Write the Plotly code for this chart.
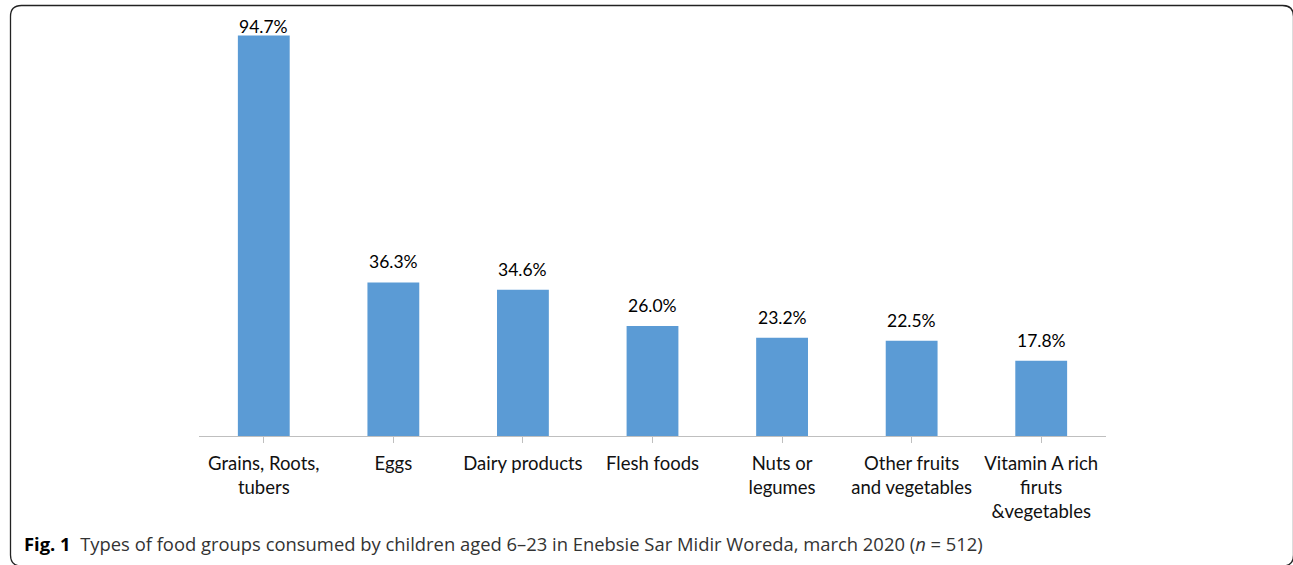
import plotly.graph_objects as go

categories = ["Grains, Roots,<br>tubers", "Eggs", "Dairy products", "Flesh foods",
              "Nuts or<br>legumes", "Other fruits<br>and vegetables",
              "Vitamin A rich<br>firuts<br>&vegetables"]
values = [94.7, 36.3, 34.6, 26.0, 23.2, 22.5, 17.8]
labels = ["94.7%", "36.3%", "34.6%", "26.0%", "23.2%", "22.5%", "17.8%"]
label_shift = [-4, 8, 8, 8, 8, 8, 8]

W, H = 1293, 565
ML, MR, MT, MB = 199, 187, 13, 129
PW, PH = W - ML - MR, H - MT - MB

def px(x):
    return (x - ML) / PW

def py(y):
    return (H - MB - y) / PH

fig = go.Figure()
fig.add_trace(go.Bar(
    x=list(range(len(values))), y=values,
    marker=dict(color="#5b9bd5", line=dict(width=0)),
    width=0.4, hoverinfo="skip",
))

for i, (v, t, s) in enumerate(zip(values, labels, label_shift)):
    fig.add_annotation(x=i, y=v, text=t, showarrow=False, yanchor="bottom",
                       yshift=s, font=dict(family="Lato", size=17.5, color="#000"))

# rounded border
x0, y0, x1, y1, r = px(10.5), py(5.5), px(1293.5), py(566), 11
rx, ry = r / PW, r / PH
path = (f"M {x0+rx},{y0} L {x1-rx},{y0} Q {x1},{y0} {x1},{y0-ry} "
        f"L {x1},{y1+ry} Q {x1},{y1} {x1-rx},{y1} L {x0+rx},{y1} "
        f"Q {x0},{y1} {x0},{y1+ry} L {x0},{y0-ry} Q {x0},{y0} {x0+rx},{y0} Z")
fig.add_shape(type="path", path=path, xref="paper", yref="paper",
              line=dict(color="#222", width=1.3))

fig.add_annotation(
    x=px(22), y=py(543), xref="paper", yref="paper", xanchor="left", yanchor="middle",
    showarrow=False,
    text="<b><span style='color:#000'>Fig. 1</span></b>  Types of food groups consumed by children aged 6–23 in Enebsie Sar Midir Woreda, march 2020 (<i>n</i> = 512)",
    font=dict(family="Open Sans", size=18.4, color="#333"),
)

fig.update_layout(
    width=W, height=H,
    margin=dict(l=ML, r=MR, t=MT, b=MB),
    paper_bgcolor="white", plot_bgcolor="white",
    showlegend=False,
    xaxis=dict(
        tickmode="array", tickvals=list(range(len(values))), ticktext=categories,
        range=[-0.5, len(values) - 0.5], tickson="boundaries",
        ticks="outside", ticklen=6, tickcolor="#bfbfbf",
        showline=True, linecolor="#bfbfbf", linewidth=1,
        showgrid=False, zeroline=False,
        ticklabelstandoff=5,
        tickfont=dict(family="Lato", size=18.5, color="#111"),
    ),
    yaxis=dict(range=[0, 100], visible=False, showgrid=False, zeroline=False),
)

fig.write_html("out.html")
